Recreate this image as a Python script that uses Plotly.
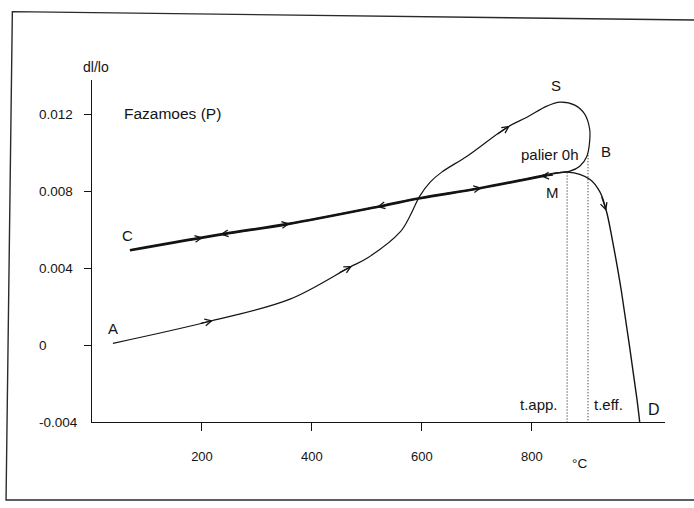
import numpy as np
import plotly.graph_objects as go

# Dilatometric run on Fazamoes (P): temperature (°C) vs relative expansion dl/lo

# First heating A -> S, then the dwell loop (palier 0h) S -> B -> M
heat1_T = [38, 215, 360, 469, 500, 560, 578, 596, 615, 636, 682, 755, 791, 827,
           851, 878, 896, 905, 905, 900, 887, 869, 838, 820]
heat1_dl = [0.0001, 0.00125, 0.0024, 0.00407, 0.00453, 0.00589, 0.00672, 0.00777,
            0.0085, 0.00902, 0.00985, 0.01136, 0.01188, 0.01246, 0.01267, 0.01251,
            0.01204, 0.01126, 0.01063, 0.00985, 0.00933, 0.00907, 0.00896, 0.00886]

# Cooling M -> C
cool_T = [827, 705, 596, 524, 355, 238, 69]
cool_dl = [0.00886, 0.00818, 0.00766, 0.00724, 0.00631, 0.00579, 0.00495]

# Second heating C -> M -> D
reheat_T = [69, 238, 355, 524, 596, 705, 827, 865, 905, 924, 936, 947, 956, 963,
            991, 996]
reheat_dl = [0.00495, 0.00579, 0.00631, 0.00724, 0.00766, 0.00818, 0.00886, 0.00902,
             0.00865, 0.00797, 0.00693, 0.00537, 0.00396, 0.00276,
             -0.00281, -0.004]

# Apparent and effective temperatures (dotted markers)
t_app_T, t_app_top = 864, 0.0090
t_eff_T, t_eff_top = 902, 0.0099

# Direction arrows: tip temperatures on each run
heat1_arrows = [220, 473, 760]
cool_arrows = [816, 518, 233]
reheat_arrows = [202, 360, 709]
descent_arrow_dl = 0.0070

y_ticks = [0.012, 0.008, 0.004, 0.0]
y_labels = ["0.012", "0.008", "0.004", "0", "-0.004"]
y_label_vals = [0.012, 0.008, 0.004, 0.0, -0.004]
x_ticks = [200, 400, 600, 800]

X_RANGE = [0, 1042]
Y_RANGE = [-0.004, 0.01382]
INK = "#141414"
FONT = "Liberation Sans, Arial, sans-serif"

fig = go.Figure()


def curve(xs, ys, width):
    fig.add_trace(go.Scatter(
        x=xs, y=ys, mode="lines", hoverinfo="skip",
        line=dict(color=INK, width=width, shape="spline", smoothing=1.0),
    ))


curve(heat1_T, heat1_dl, 1.2)
curve(cool_T, cool_dl, 2.7)
curve(reheat_T, reheat_dl, 1.4)

for t, top in [(t_app_T, t_app_top), (t_eff_T, t_eff_top)]:
    fig.add_trace(go.Scatter(
        x=[t, t], y=[top, Y_RANGE[0]], mode="lines", hoverinfo="skip",
        line=dict(color="#222", width=1.1, dash="1px,2px"),
    ))


def interp(xs, ys, x):
    xs = np.asarray(xs, float)
    ys = np.asarray(ys, float)
    order = np.argsort(xs)
    return float(np.interp(x, xs[order], ys[order]))


def arrow(x_tip, y_tip, x_tail, y_tail):
    fig.add_annotation(
        x=x_tip, y=y_tip, ax=x_tail, ay=y_tail, xref="x", yref="y",
        axref="x", ayref="y", text="", showarrow=True,
        arrowhead=5, arrowsize=1.2, arrowwidth=1.1, arrowcolor=INK,
    )


step = 25
rise = heat1_T[:15], heat1_dl[:15]
for t in heat1_arrows:
    arrow(t, interp(*rise, t), t - step, interp(*rise, t - step))
for t in cool_arrows:
    arrow(t, interp(cool_T, cool_dl, t), t + step, interp(cool_T, cool_dl, t + step))
for t in reheat_arrows:
    arrow(t, interp(reheat_T, reheat_dl, t), t - step, interp(reheat_T, reheat_dl, t - step))

fall_T, fall_dl = reheat_T[8:], reheat_dl[8:]
tip_T = interp(fall_dl, fall_T, descent_arrow_dl)
tail_T = interp(fall_dl, fall_T, descent_arrow_dl + 0.0008)
arrow(tip_T, descent_arrow_dl, tail_T, descent_arrow_dl + 0.0008)

# Point letters and notes
labels = [
    ("A", 38, 0.00085, 15), ("C", 65, 0.00573, 15), ("S", 843, 0.01355, 15),
    ("B", 935, 0.0101, 15), ("palier 0h", 832, 0.00995, 15), ("M", 837, 0.00797, 15),
    ("t.app.", 812, -0.00307, 15), ("t.eff.", 940, -0.00307, 15),
    ("D", 1022, -0.00334, 16), ("Fazamoes (P)", 146, 0.0121, 15.5),
]
for text, x, y, size in labels:
    fig.add_annotation(x=x, y=y, xref="x", yref="y", text=text, showarrow=False,
                       font=dict(family=FONT, size=size, color=INK))

# y tick labels, left-aligned
for text, v in zip(y_labels, y_label_vals):
    fig.add_annotation(x=-0.096, y=v, xref="paper", yref="y", text=text,
                       xanchor="left", showarrow=False,
                       font=dict(family=FONT, size=13.5, color=INK))

fig.add_annotation(x=0.007, y=1.038, xref="paper", yref="paper", text="dl/lo",
                   xanchor="center", yanchor="middle",
                   showarrow=False, font=dict(family=FONT, size=14, color=INK))
fig.add_annotation(x=887, y=-0.15, xref="x", yref="paper", text="°C",
                   showarrow=False, font=dict(family=FONT, size=13.5, color=INK))

# Outer frame around the figure
fig.add_shape(type="path", xref="paper", yref="paper",
              path="M 1.07 1.175 L -0.139 1.20 L -0.150 -0.228 L 1.07 -0.228",
              line=dict(color="#2a2a2a", width=1.4))

fig.update_layout(
    width=694, height=508,
    margin=dict(l=92, r=29, t=80, b=86),
    paper_bgcolor="white", plot_bgcolor="white",
    showlegend=False,
    font=dict(family=FONT, color=INK),
    xaxis=dict(range=X_RANGE, showline=True, linecolor=INK, linewidth=1.3,
               ticks="outside", ticklen=8, tickwidth=1, tickcolor=INK,
               tickvals=x_ticks, tickfont=dict(size=13, family=FONT, color=INK),
               ticklabelstandoff=14, showgrid=False, zeroline=False),
    yaxis=dict(range=Y_RANGE, showline=True, linecolor=INK, linewidth=1.3,
               ticks="outside", ticklen=7, tickwidth=1, tickcolor=INK,
               tickvals=y_ticks, showticklabels=False,
               showgrid=False, zeroline=False),
)

fig.write_html("out.html")
